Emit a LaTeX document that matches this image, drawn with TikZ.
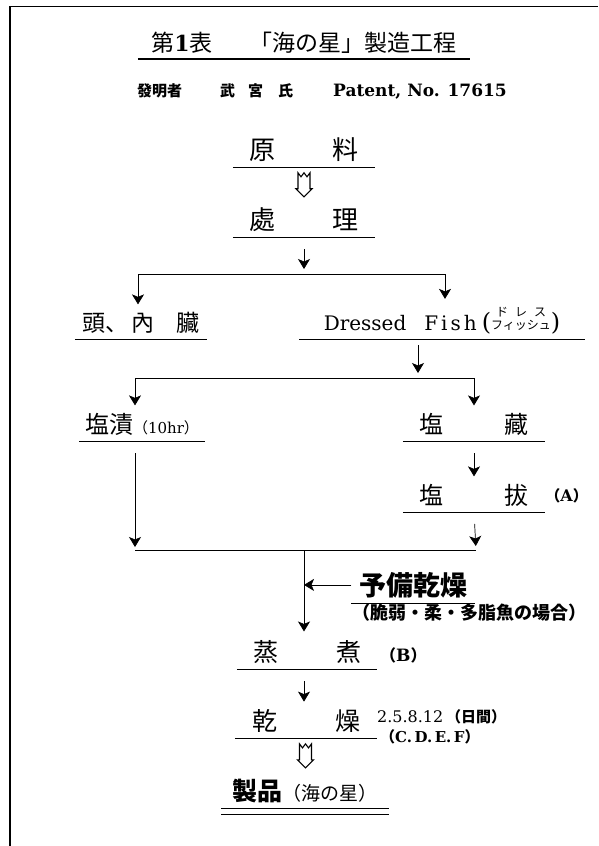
\documentclass[tikz,border=0pt]{standalone}
\usepackage{fontspec}
\newfontfamily\jp{Noto Sans CJK JP}
\newfontfamily\lat{DejaVu Serif}
\usetikzlibrary{arrows.meta,calc}
\newcommand{\fs}[1]{\fontsize{#1}{#1}\selectfont}
\tikzset{
  stage/.style={inner xsep=0pt, inner ysep=5pt, anchor=south},
  note/.style={inner sep=0pt, anchor=west},
  uline/.style={line width=0.8pt},
  link/.style={line width=0.6pt},
  flow/.style={line width=0.7pt, -{Stealth[length=10pt,width=12pt,inset=2.5pt]}},
  hollow/.pic={\draw[line width=1.1pt, line join=miter] (-6,-12) -- (-3,-8) -- (0,-12) -- (3,-8) -- (6,-12)
      -- (6,4) -- (8,4) -- (0,12) -- (-8,4) -- (-6,4) -- cycle;}
}
\begin{document}
\begin{tikzpicture}[x=1pt, y=-1pt]
    \useasboundingbox (0,0) rectangle (598,846);
    \draw[line width=1.2pt] (10,846) -- (10,6);
    \draw[line width=0.5pt] (10,6) -- (598,6);

    \node[stage, minimum width=332pt, font=\jp\fs{23}] (title) at (304,59) {第{\lat\bfseries\fs{22}1}表\hspace{37pt}「海の星」製造工程};
    \draw[line width=1.6pt] (title.south west) -- (title.south east);
    \node[note, font=\jp\fs{15}\bfseries] (patent) at (137,91) {發明者\hspace{38pt}武\hspace{13pt}宮\hspace{15pt}氏\hspace{40pt}{\lat\bfseries\fs{17}Patent, No. 17615}};

    \node[stage, minimum width=142pt, font=\jp\fs{26}] (genryo) at (304,167) {原\hspace{58pt}料};
    \draw[uline] (genryo.south west) -- (genryo.south east);
    \node[stage, minimum width=142pt, font=\jp\fs{26}] (shori) at (304,237) {處\hspace{58pt}理};
    \draw[uline] (shori.south west) -- (shori.south east);
    \pic at ($(genryo.south)!0.5!(shori.north)$) {hollow};

    \coordinate (s1) at (304,274);
    \coordinate (s1l) at (138,274);
    \coordinate (s1r) at (445,274);
    \node[stage, minimum width=132pt, font=\jp\fs{23}] (atama) at (141,339) {頭、\hspace{4pt}內\hspace{22pt}臟};
    \draw[uline] (atama.south west) -- (atama.south east);
    \node[stage, minimum width=285pt, font=\lat\fs{20}] (dressed) at (442,339)
        {Dressed\hspace{18pt}F\hspace{3pt}i\hspace{3pt}s\hspace{3pt}h\hspace{5pt}{\fs{24}(}\raisebox{1pt}{\jp\fs{12}\shortstack{ド\hspace{7pt}レ\hspace{7pt}ス\\フィッシュ}}{\fs{24})}};
    \draw[uline] (dressed.south west) -- (dressed.south east);
    \draw[flow, shorten <=12pt, shorten >=5pt] (shori.south) -- (s1);
    \draw[link] (s1l) -- (s1r);
    \draw[flow, shorten >=3pt] (s1l) -- (s1l |- atama.north);
    \draw[flow, shorten >=3pt] (s1r) -- (s1r |- dressed.north);

    \coordinate (s2) at (418,378);
    \coordinate (s2l) at (135,378);
    \coordinate (s2r) at (474,378);
    \node[stage, minimum width=125pt, font=\jp\fs{24}] (shiozuke) at (142,441) {塩漬{\fs{15}（{\lat\fs{15}10hr}）}};
    \draw[uline] (shiozuke.south west) -- (shiozuke.south east);
    \node[stage, minimum width=142pt, font=\jp\fs{24}] (shiozo) at (474,441) {塩\hspace{62pt}藏};
    \draw[uline] (shiozo.south west) -- (shiozo.south east);
    \node[stage, minimum width=142pt, font=\jp\fs{24}] (shionuki) at (474,512) {塩\hspace{62pt}拔};
    \draw[uline] (shionuki.south west) -- (shionuki.south east);
    \node[note, font=\jp\fs{15}\bfseries] (noteA) at (shionuki.east) {（{\lat\bfseries\fs{16}A}）};
    \draw[flow, shorten <=6pt, shorten >=5pt] (s2 |- dressed.south) -- (s2);
    \draw[link] (s2l) -- (s2r);
    \draw[flow, shorten >=3pt] (s2l) -- (s2l |- shiozuke.north);
    \draw[flow, shorten >=3pt] (s2r) -- (shiozo.north);
    \draw[flow, shorten <=12pt, shorten >=3pt] (shiozo.south) -- (shionuki.north);

    \coordinate (s3) at (304,550);
    \coordinate (s3l) at (135,550);
    \coordinate (s3r) at (476,550);
    \draw[flow, shorten <=12pt, shorten >=3pt] (s2l |- shiozuke.south) -- (s3l);
    \draw[flow, shorten <=12pt, shorten >=4pt] (shionuki.south) -- (s3r);
    \draw[link] (s3l) -- (s3r);

    \node[stage, minimum width=123pt, font=\jp\fs{27}\bfseries] (yobi) at (413,603) {予備乾燥};
    \draw[uline] (yobi.south west) -- (yobi.south east);
    \node[note, font=\jp\fs{18}\bfseries] (yobinote) at (352,613) {（脆弱・柔・多脂魚の場合）};
    \node[stage, minimum width=140pt, font=\jp\fs{25}] (jousha) at (307,669) {蒸\hspace{58pt}煮};
    \draw[uline] (jousha.south west) -- (jousha.south east);
    \node[note, font=\jp\fs{16}\bfseries] (noteB) at (380,655) {（{\lat\bfseries\fs{17}B}）};
    \draw[flow, shorten >=4pt] (s3) -- (s3 |- jousha.north);
    \draw[flow] (yobi.west) -- (yobi.west -| s3);

    \node[stage, minimum width=142pt, font=\jp\fs{25}] (kanso) at (306,738) {乾\hspace{58pt}燥};
    \draw[uline] (kanso.south west) -- (kanso.south east);
    \node[note, font=\lat\fs{16}] (days) at (377,717) {2.5.8.12\,{\jp\fs{15}\bfseries（日間）}};
    \node[note, font=\lat\bfseries\fs{15}] (noteC) at (380,737) {{\jp\fs{15}（}C.\,D.\,E.\,F{\jp\fs{15}）}};
    \draw[flow, shorten <=12pt, shorten >=3pt] (jousha.south -| s3) -- (s3 |- kanso.north);

    \node[stage, minimum width=167pt, font=\jp\fs{25}\bfseries] (seihin) at (305,808) {製品{\mdseries\fs{19}（海の星）}};
    \draw[uline] (seihin.south west) -- (seihin.south east);
    \draw[uline] ([yshift=-6pt]seihin.south west) -- ([yshift=-6pt]seihin.south east);
    \pic at ($(kanso.south)!0.5!(seihin.north)$) {hollow};
\end{tikzpicture}
\end{document}
